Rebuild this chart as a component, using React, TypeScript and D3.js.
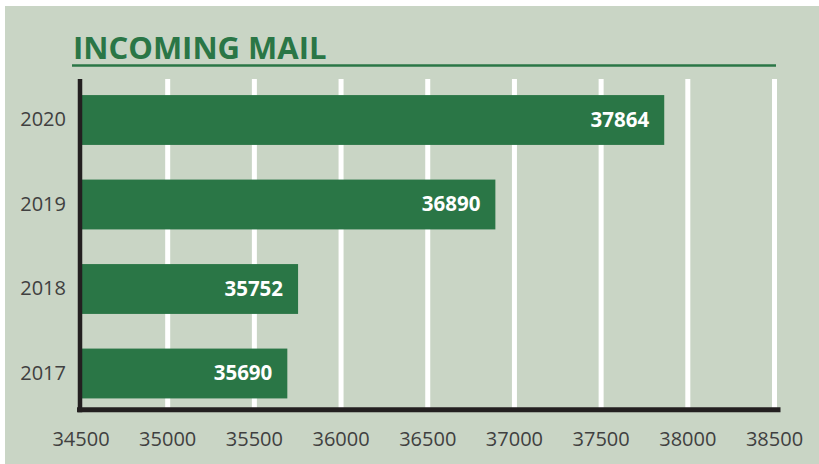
import React from "react";
import * as d3 from "d3";

const years = ["2020", "2019", "2018", "2017"];
const mails = [37864, 36890, 35752, 35690];
const xTicks = [34500, 35000, 35500, 36000, 36500, 37000, 37500, 38000, 38500];
const title = "INCOMING MAIL";

const W = 819;
const H = 464;
const BG = "#c9d5c5";
const GREEN = "#2a7646";
const AXIS = "#231f20";
const TEXT = "#404040";
const FONT = "'Open Sans', 'Noto Sans', sans-serif";

export default function App() {
  const x = d3.scaleLinear().domain([34500, 38500]).range([81, 774.5]);
  const y = d3
    .scaleBand<string>()
    .domain(years)
    .range([77.75, 415.75])
    .paddingInner(0.41)
    .paddingOuter(0.205);

  const gridTop = 79;
  const axisY = 409.8;
  const axisX = 80;

  return (
    <svg
      width={W}
      height={H}
      style={{ position: "absolute", left: 0, top: 0, display: "block" }}
    >
      <rect x={0} y={0} width={W} height={H} fill="#ffffff" />
      <rect x={5} y={6} width={W - 5} height={H - 6} fill={BG} />

      <text
        x={73}
        y={59.3}
        fontFamily={FONT}
        fontWeight={700}
        fontSize={31}
        fill={GREEN}
      >
        {title}
      </text>
      <line x1={72} x2={776} y1={65.5} y2={65.5} stroke={GREEN} strokeWidth={2.5} />

      {xTicks.slice(1).map((t) => (
        <line
          key={"g" + t}
          x1={x(t)}
          x2={x(t)}
          y1={gridTop}
          y2={axisY}
          stroke="#ffffff"
          strokeWidth={5}
        />
      ))}

      {years.map((yr, i) => (
        <rect
          key={"b" + yr}
          x={x(34500) + 1}
          y={y(yr)!}
          width={x(mails[i]) - x(34500) - 1}
          height={y.bandwidth()}
          fill={GREEN}
        />
      ))}

      {years.map((yr, i) => (
        <text
          key={"v" + yr}
          x={x(mails[i]) - 15}
          y={y(yr)! + y.bandwidth() / 2 + 6.5}
          textAnchor="end"
          fontFamily={FONT}
          fontWeight={700}
          fontSize={20.5}
          fill="#ffffff"
        >
          {mails[i]}
        </text>
      ))}

      <line x1={axisX} x2={axisX} y1={gridTop} y2={axisY + 2.5} stroke={AXIS} strokeWidth={4.5} />
      <line x1={77} x2={780.5} y1={axisY} y2={axisY} stroke={AXIS} strokeWidth={5} />

      {years.map((yr) => (
        <text
          key={"y" + yr}
          x={66}
          y={y(yr)! + y.bandwidth() / 2 + 6}
          textAnchor="end"
          fontFamily={FONT}
          fontSize={20}
          fill={TEXT}
        >
          {yr}
        </text>
      ))}

      {xTicks.map((t) => (
        <text
          key={"x" + t}
          x={x(t)}
          y={445.7}
          textAnchor="middle"
          fontFamily={FONT}
          fontSize={20}
          fill={TEXT}
        >
          {t}
        </text>
      ))}
    </svg>
  );
}
